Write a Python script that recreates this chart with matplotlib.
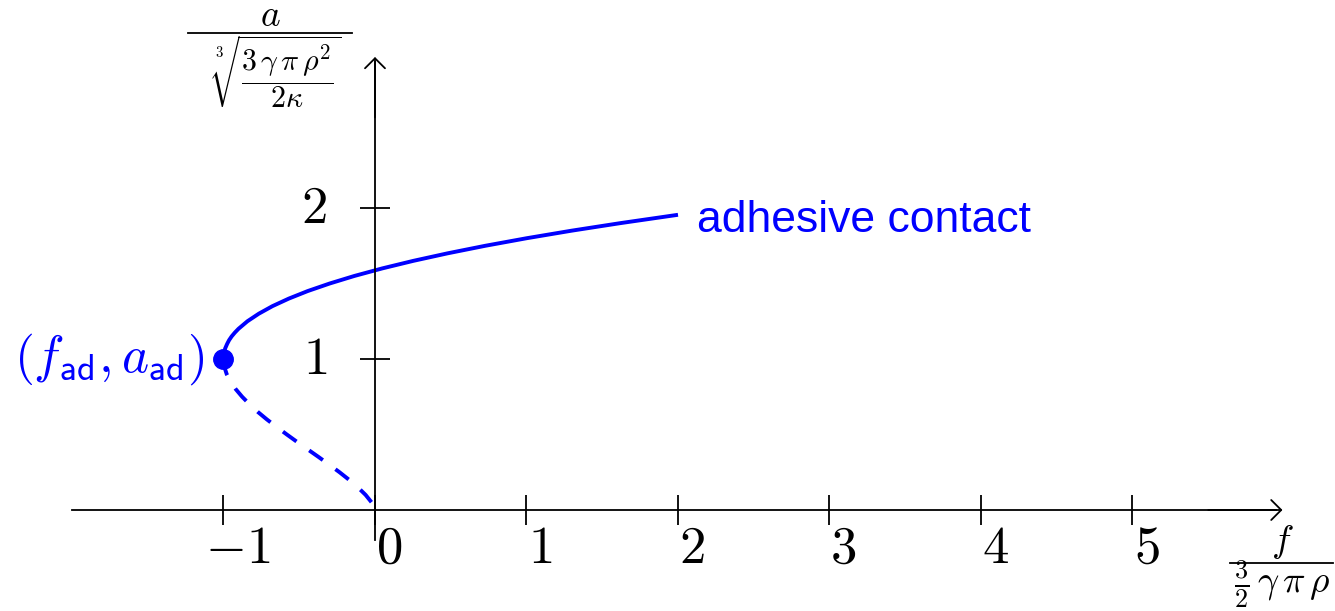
import numpy as np
import matplotlib
matplotlib.use("Agg")
import matplotlib.pyplot as plt
from matplotlib.lines import Line2D
from matplotlib.transforms import ScaledTranslation

plt.rcParams['mathtext.fontset'] = 'cm'

# stable branch (solid) : normalised contact radius a vs normalised force f
a_stable = [1.0, 1.01, 1.02, 1.03, 1.05, 1.07, 1.1, 1.125, 1.15, 1.175, 1.2, 1.25,
            1.3, 1.35, 1.4, 1.45, 1.5, 1.55, 1.6, 1.65, 1.7, 1.75, 1.8, 1.85,
            1.9, 1.955]
f_stable = [-1.0, -0.9998, -0.999, -0.998, -0.994, -0.989, -0.976, -0.963, -0.946,
            -0.925, -0.901, -0.842, -0.767, -0.677, -0.569, -0.444, -0.299, -0.136,
            0.048, 0.253, 0.480, 0.729, 1.002, 1.299, 1.621, 2.0]

# unstable branch (dashed)
a_unstable = [1.0, 0.98, 0.95, 0.9, 0.85, 0.8, 0.75, 0.7, 0.65, 0.6, 0.55, 0.5,
              0.45, 0.4, 0.35, 0.3, 0.25, 0.2, 0.15, 0.1, 0.05, 0.0]
f_unstable = [-1.0, -0.999, -0.995, -0.979, -0.953, -0.919, -0.877, -0.828, -0.774,
              -0.714, -0.649, -0.582, -0.513, -0.442, -0.371, -0.302, -0.234,
              -0.171, -0.113, -0.062, -0.022, 0.0]

f_ad, a_ad = [-1.0], [1.0]

x_ticks = [-1, 0, 1, 2, 3, 4, 5]
y_ticks = [1, 2]

BLUE = '#0000ff'
W, H = 1335, 611

fig = plt.figure(figsize=(13.35, 6.11), dpi=100)
ax = fig.add_axes([0, 0, 1, 1])
ax.set_xlim(-375 / 151.5, (W - 375) / 151.5)
ax.set_ylim(-(H - 510) / 151.0, 510 / 151.0)
ax.patch.set_visible(False)

# axes through origin
for side in ['top', 'right']:
    ax.spines[side].set_visible(False)
ax.spines['bottom'].set_position(('data', 0))
ax.spines['left'].set_position(('data', 0))
ax.spines['bottom'].set_bounds(-2.0, 5.95)
ax.spines['left'].set_bounds(-0.2, 2.97)
for side in ['bottom', 'left']:
    ax.spines[side].set_linewidth(1.3)
ax.set_xticks(x_ticks)
ax.set_yticks(y_ticks)
ax.set_xticklabels([])
ax.set_yticklabels([])
ax.tick_params(direction='inout', length=21.6, width=1.3, color='black')

arrow = dict(arrowstyle='->,head_length=0.36,head_width=0.36', lw=1.3,
             color='black', mutation_scale=20, shrinkA=0, shrinkB=0)
ax.annotate('', xy=(5.99, 0), xytext=(5.5, 0), arrowprops=arrow)
ax.annotate('', xy=(0, 3.0), xytext=(0, 2.6), arrowprops=arrow)

# tick labels
xoff = ax.transData + ScaledTranslation(14 / 100, -12 / 100, fig.dpi_scale_trans)
for t in x_ticks:
    ax.text(t, 0, r'$%d$' % t if t >= 0 else r'$-%d$' % abs(t), transform=xoff,
            ha='center', va='top', fontsize=38)
yoff = ax.transData + ScaledTranslation(-48 / 100, 0, fig.dpi_scale_trans)
for t in y_ticks:
    ax.text(0, t, r'$%d$' % t, transform=yoff, ha='right', va='center', fontsize=38)

# curves
ax.plot(f_stable, a_stable, color=BLUE, lw=2.8, solid_capstyle='butt')
ax.plot(f_unstable, a_unstable, color=BLUE, lw=2.8, dashes=(4.3, 4.0))
ax.plot(f_ad, a_ad, 'o', color=BLUE, ms=14)

ax.text(697 / W, 1 - 232 / H, 'adhesive contact', transform=fig.transFigure,
        ha='left', va='baseline', fontsize=32, color=BLUE, family='Liberation Sans')
ax.text(205 / W, 1 - 359 / H, r'$(f_{\mathsf{ad}}, a_{\mathsf{ad}})$',
        transform=fig.transFigure, ha='right', va='center', fontsize=37, color=BLUE)

# axis labels (stacked fractions: numerator, bar, denominator)
fig.text(270 / W, 1 - 26 / H, r'$a$', ha='center', va='baseline', fontsize=27)
fig.add_artist(Line2D([188 / W, 352 / W], [1 - 33 / H, 1 - 33 / H], lw=1.3, color='black'))
fig.text(276 / W, 1 - 72 / H,
         r'$\sqrt[3]{\dfrac{3\,\gamma\,\pi\,\rho^2}{2\kappa}}$',
         ha='center', va='center', fontsize=21.5)

fig.text(1282 / W, 1 - 542 / H, r'$f$', ha='center', va='center', fontsize=27)
fig.add_artist(Line2D([1230 / W, 1333 / W], [1 - 563 / H, 1 - 563 / H], lw=1.3, color='black'))
fig.text(1282 / W, 1 - 584 / H, r'$\frac{3}{2}\,\gamma\,\pi\,\rho$',
         ha='center', va='center', fontsize=27)

fig.savefig('out.png', dpi=100)
